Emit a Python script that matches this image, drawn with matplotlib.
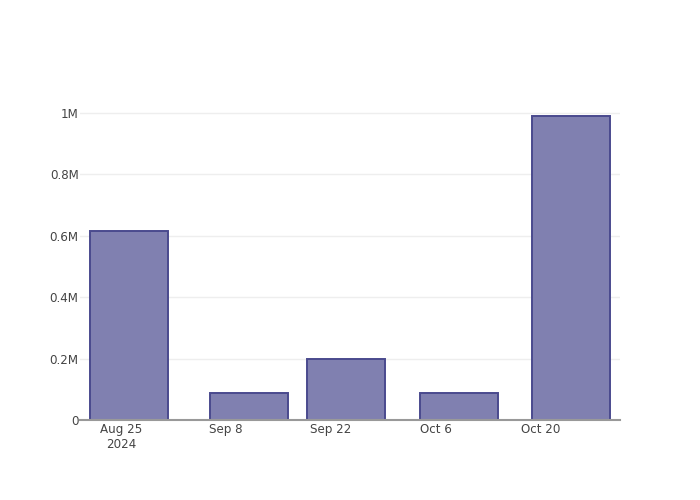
import datetime as dt
import matplotlib
matplotlib.use("Agg")
import matplotlib.pyplot as plt
import matplotlib.dates as mdates

# bar dates and values
dates = [dt.datetime(2024, 8, 26), dt.datetime(2024, 9, 11), dt.datetime(2024, 9, 24),
         dt.datetime(2024, 10, 9), dt.datetime(2024, 10, 24)]
values = [616000, 88000, 199000, 88000, 990000]

tick_dates = [dt.datetime(2024, 8, 25), dt.datetime(2024, 9, 8), dt.datetime(2024, 9, 22),
              dt.datetime(2024, 10, 6), dt.datetime(2024, 10, 20)]
tick_labels = ["Aug 25\n2024", "Sep 8", "Sep 22", "Oct 6", "Oct 20"]
ytick_vals = [0, 200000, 400000, 600000, 800000, 1000000]
ytick_labels = ["0", "0.2M", "0.4M", "0.6M", "0.8M", "1M"]

plt.rcParams['font.family'] = ['DejaVu Sans']

fig = plt.figure(figsize=(7, 5), dpi=100)
ax = fig.add_axes([80 / 700, 80 / 500, 540 / 700, 320 / 500])

# plotly style: width = 0.8 * smallest gap between bars
x = mdates.date2num(dates)
width = 0.8 * min(b - a for a, b in zip(x[:-1], x[1:]))
ax.bar(x, values, width=width, color="#8080b0", edgecolor="#4a4a8e", linewidth=1.4, zorder=3)

ax.set_xlim(mdates.date2num(dt.datetime(2024, 8, 19, 12)), mdates.date2num(dt.datetime(2024, 10, 30, 13)))
ax.set_ylim(0, 1042000)

ax.set_xticks(mdates.date2num(tick_dates))
ax.set_xticklabels(tick_labels, fontsize=8.6, color="#444444", linespacing=1.2)
ax.set_yticks(ytick_vals)
ax.set_yticklabels(ytick_labels, fontsize=8.6, color="#444444")
ax.tick_params(axis="both", length=0)
ax.tick_params(axis="x", pad=2)
ax.tick_params(axis="y", pad=1)

ax.grid(axis="y", color="#eeeeee", linewidth=1, zorder=0)
for side in ["top", "right", "left"]:
    ax.spines[side].set_visible(False)
ax.spines["bottom"].set_color("#999999")
ax.spines["bottom"].set_linewidth(1.5)
ax.spines["bottom"].set_zorder(4)

fig.savefig("out.png", dpi=100)
